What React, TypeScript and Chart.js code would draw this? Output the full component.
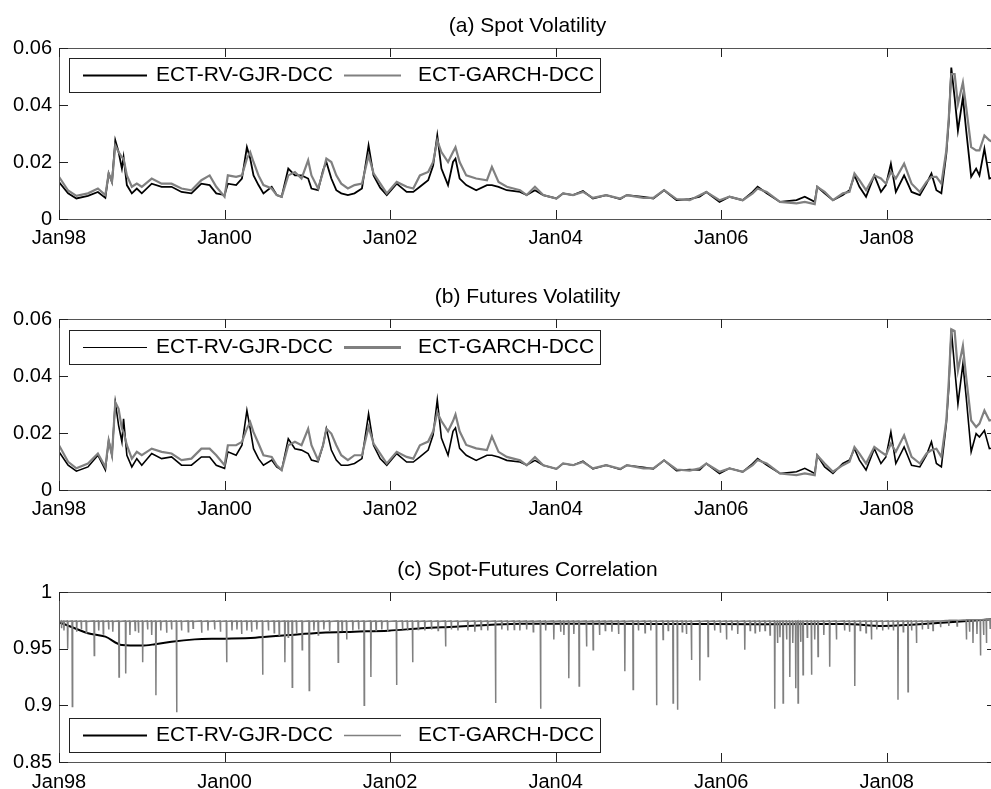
import React, { useEffect, useRef } from "react";
import { Chart, registerables } from "chart.js";
Chart.register(...registerables);

const FONT = '"Liberation Sans", Arial, Helvetica, sans-serif';

// ---------- axes ----------
const xMin = 1998;
const xMax = 2009.32;
const xTickValues = [1998, 2000, 2002, 2004, 2006, 2008];
const xTickLabels = ["Jan98", "Jan00", "Jan02", "Jan04", "Jan06", "Jan08"];
const volTickValues = [0, 0.02, 0.04, 0.06];
const volTickLabels = ["0", "0.02", "0.04", "0.06"];
const corrTickValues = [0.85, 0.9, 0.95, 1];
const corrTickLabels = ["0.85", "0.9", "0.95", "1"];
const seriesNames = ["ECT-RV-GJR-DCC", "ECT-GARCH-DCC"];
const panelTitles = ["(a) Spot Volatility", "(b) Futures Volatility", "(c) Spot-Futures Correlation"];

// ---------- volatility (dates in fractional years) ----------
const volDates = [
  1998.00, 1998.11, 1998.21, 1998.35, 1998.47, 1998.56, 1998.60, 1998.64, 1998.68, 1998.72,
  1998.76, 1998.78, 1998.82, 1998.88, 1998.94, 1999.00, 1999.12, 1999.24, 1999.36, 1999.48,
  1999.60, 1999.72, 1999.82, 1999.90, 2000.00, 2000.04, 2000.14, 2000.21, 2000.27, 2000.31,
  2000.35, 2000.41, 2000.47, 2000.57, 2000.63, 2000.69, 2000.77, 2000.85, 2000.93, 2001.01,
  2001.05, 2001.13, 2001.19, 2001.23, 2001.29, 2001.35, 2001.41, 2001.49, 2001.57, 2001.66,
  2001.74, 2001.80, 2001.88, 2001.96, 2002.08, 2002.20, 2002.28, 2002.36, 2002.46, 2002.52,
  2002.57, 2002.62, 2002.70, 2002.76, 2002.79, 2002.84, 2002.92, 2003.04, 2003.17, 2003.23,
  2003.31, 2003.41, 2003.57, 2003.65, 2003.75, 2003.85, 2004.01, 2004.09, 2004.21, 2004.33,
  2004.45, 2004.61, 2004.78, 2004.86, 2005.06, 2005.18, 2005.31, 2005.46, 2005.62, 2005.74,
  2005.82, 2005.98, 2006.10, 2006.26, 2006.38, 2006.44, 2006.55, 2006.71, 2006.91, 2007.01,
  2007.13, 2007.16, 2007.25, 2007.35, 2007.47, 2007.55, 2007.61, 2007.67, 2007.75, 2007.85,
  2007.93, 2007.99, 2008.05, 2008.11, 2008.21, 2008.30, 2008.40, 2008.48, 2008.54, 2008.60,
  2008.66, 2008.72, 2008.75, 2008.78, 2008.82, 2008.86, 2008.92, 2008.96, 2009.02, 2009.08,
  2009.12, 2009.18, 2009.24, 2009.32,
];

const spotRV = [
  0.0130, 0.0090, 0.0072, 0.0081, 0.0095, 0.0074, 0.0160, 0.0130, 0.0276, 0.0235,
  0.0177, 0.0217, 0.0119, 0.0090, 0.0107, 0.0090, 0.0124, 0.0113, 0.0113, 0.0095,
  0.0090, 0.0124, 0.0119, 0.0090, 0.0084, 0.0124, 0.0119, 0.0142, 0.0252, 0.0212,
  0.0153, 0.0119, 0.0090, 0.0113, 0.0084, 0.0078, 0.0177, 0.0153, 0.0153, 0.0142,
  0.0107, 0.0101, 0.0171, 0.0200, 0.0142, 0.0101, 0.0090, 0.0084, 0.0090, 0.0107,
  0.0258, 0.0153, 0.0110, 0.0084, 0.0124, 0.0095, 0.0095, 0.0113, 0.0136, 0.0188,
  0.0293, 0.0177, 0.0119, 0.0200, 0.0212, 0.0142, 0.0119, 0.0101, 0.0119, 0.0119,
  0.0113, 0.0101, 0.0095, 0.0084, 0.0101, 0.0084, 0.0072, 0.0090, 0.0084, 0.0098,
  0.0072, 0.0084, 0.0070, 0.0084, 0.0078, 0.0072, 0.0101, 0.0066, 0.0070, 0.0078,
  0.0095, 0.0060, 0.0078, 0.0066, 0.0095, 0.0113, 0.0090, 0.0060, 0.0066, 0.0078,
  0.0060, 0.0113, 0.0090, 0.0066, 0.0084, 0.0101, 0.0153, 0.0113, 0.0078, 0.0153,
  0.0095, 0.0119, 0.0194, 0.0095, 0.0153, 0.0095, 0.0084, 0.0124, 0.0160, 0.0101,
  0.0090, 0.0229, 0.0345, 0.0531, 0.0427, 0.0310, 0.0427, 0.0310, 0.0148, 0.0177,
  0.0153, 0.0247, 0.0142, 0.0150,
];

const spotGARCH = [
  0.0148, 0.0100, 0.0081, 0.0090, 0.0107, 0.0084, 0.0160, 0.0130, 0.0258, 0.0235,
  0.0217, 0.0212, 0.0153, 0.0113, 0.0124, 0.0113, 0.0142, 0.0124, 0.0124, 0.0107,
  0.0101, 0.0136, 0.0153, 0.0113, 0.0078, 0.0153, 0.0148, 0.0153, 0.0212, 0.0235,
  0.0200, 0.0153, 0.0119, 0.0107, 0.0084, 0.0078, 0.0153, 0.0165, 0.0142, 0.0206,
  0.0153, 0.0107, 0.0165, 0.0212, 0.0200, 0.0153, 0.0124, 0.0107, 0.0119, 0.0124,
  0.0223, 0.0160, 0.0125, 0.0090, 0.0130, 0.0113, 0.0107, 0.0153, 0.0165, 0.0200,
  0.0276, 0.0235, 0.0200, 0.0235, 0.0252, 0.0200, 0.0153, 0.0142, 0.0136, 0.0183,
  0.0130, 0.0113, 0.0101, 0.0084, 0.0113, 0.0084, 0.0072, 0.0090, 0.0084, 0.0095,
  0.0074, 0.0084, 0.0072, 0.0084, 0.0074, 0.0074, 0.0101, 0.0070, 0.0066, 0.0083,
  0.0095, 0.0066, 0.0078, 0.0066, 0.0090, 0.0107, 0.0095, 0.0060, 0.0055, 0.0060,
  0.0052, 0.0113, 0.0095, 0.0066, 0.0090, 0.0095, 0.0160, 0.0136, 0.0101, 0.0153,
  0.0142, 0.0124, 0.0165, 0.0142, 0.0194, 0.0124, 0.0095, 0.0130, 0.0148, 0.0148,
  0.0124, 0.0241, 0.0357, 0.0508, 0.0508, 0.0403, 0.0479, 0.0392, 0.0252, 0.0241,
  0.0241, 0.0293, 0.0276, 0.0265,
];

const futRV = [
  0.0134, 0.0087, 0.0066, 0.0081, 0.0122, 0.0070, 0.0174, 0.0122, 0.0308, 0.0227,
  0.0169, 0.0250, 0.0122, 0.0081, 0.0110, 0.0087, 0.0128, 0.0110, 0.0116, 0.0087,
  0.0087, 0.0116, 0.0116, 0.0087, 0.0076, 0.0134, 0.0122, 0.0157, 0.0279, 0.0215,
  0.0145, 0.0110, 0.0087, 0.0105, 0.0081, 0.0070, 0.0180, 0.0145, 0.0140, 0.0128,
  0.0105, 0.0099, 0.0157, 0.0215, 0.0140, 0.0105, 0.0087, 0.0087, 0.0093, 0.0110,
  0.0267, 0.0157, 0.0110, 0.0087, 0.0128, 0.0098, 0.0098, 0.0116, 0.0140, 0.0194,
  0.0316, 0.0182, 0.0122, 0.0206, 0.0218, 0.0146, 0.0122, 0.0104, 0.0122, 0.0122,
  0.0116, 0.0104, 0.0098, 0.0087, 0.0104, 0.0087, 0.0074, 0.0093, 0.0087, 0.0101,
  0.0074, 0.0087, 0.0072, 0.0087, 0.0080, 0.0074, 0.0104, 0.0068, 0.0072, 0.0070,
  0.0093, 0.0058, 0.0076, 0.0064, 0.0093, 0.0110, 0.0087, 0.0058, 0.0064, 0.0076,
  0.0058, 0.0122, 0.0081, 0.0058, 0.0093, 0.0105, 0.0145, 0.0105, 0.0070, 0.0145,
  0.0093, 0.0116, 0.0203, 0.0093, 0.0151, 0.0087, 0.0081, 0.0122, 0.0169, 0.0093,
  0.0081, 0.0233, 0.0360, 0.0564, 0.0430, 0.0302, 0.0442, 0.0326, 0.0134, 0.0198,
  0.0186, 0.0209, 0.0145, 0.0150,
];

const futGARCH = [
  0.0157, 0.0099, 0.0076, 0.0093, 0.0128, 0.0081, 0.0174, 0.0122, 0.0308, 0.0285,
  0.0215, 0.0203, 0.0157, 0.0110, 0.0134, 0.0122, 0.0145, 0.0134, 0.0128, 0.0105,
  0.0110, 0.0145, 0.0145, 0.0122, 0.0087, 0.0157, 0.0157, 0.0169, 0.0215, 0.0238,
  0.0203, 0.0163, 0.0122, 0.0116, 0.0087, 0.0070, 0.0157, 0.0169, 0.0157, 0.0215,
  0.0157, 0.0105, 0.0157, 0.0215, 0.0198, 0.0157, 0.0122, 0.0105, 0.0122, 0.0122,
  0.0221, 0.0163, 0.0128, 0.0093, 0.0134, 0.0116, 0.0110, 0.0157, 0.0170, 0.0206,
  0.0272, 0.0242, 0.0206, 0.0242, 0.0265, 0.0206, 0.0158, 0.0146, 0.0140, 0.0188,
  0.0134, 0.0116, 0.0104, 0.0087, 0.0116, 0.0087, 0.0074, 0.0093, 0.0087, 0.0098,
  0.0076, 0.0087, 0.0074, 0.0087, 0.0076, 0.0076, 0.0104, 0.0072, 0.0068, 0.0076,
  0.0093, 0.0064, 0.0076, 0.0064, 0.0087, 0.0105, 0.0093, 0.0058, 0.0052, 0.0058,
  0.0052, 0.0122, 0.0093, 0.0064, 0.0087, 0.0099, 0.0151, 0.0128, 0.0093, 0.0151,
  0.0134, 0.0122, 0.0163, 0.0134, 0.0192, 0.0116, 0.0093, 0.0128, 0.0140, 0.0145,
  0.0116, 0.0244, 0.0384, 0.0564, 0.0558, 0.0419, 0.0506, 0.0395, 0.0244, 0.0221,
  0.0233, 0.0279, 0.0244, 0.0250,
];

// ---------- correlation ----------
const corrRVDates = [
  1998.00, 1998.03, 1998.19, 1998.35, 1998.56, 1998.76, 1999.00, 1999.16, 1999.36, 1999.64,
  1999.96, 2000.37, 2000.77, 2001.17, 2001.57, 2001.98, 2002.38, 2002.78, 2003.18, 2003.59,
  2004.50, 2005.50, 2006.50, 2007.50, 2007.95, 2008.30, 2008.80, 2009.32,
];
const corrRV = [
  0.9730, 0.9724, 0.9680, 0.9636, 0.9606, 0.9532, 0.9527, 0.9539, 0.9562, 0.9582,
  0.9588, 0.9597, 0.9620, 0.9641, 0.9650, 0.9659, 0.9680, 0.9694, 0.9709, 0.9720,
  0.9720, 0.9718, 0.9716, 0.9718, 0.9700, 0.9712, 0.9735, 0.9762,
];

const corrGARCH: [number, number][] = [
  [1998.000,0.9735],
  [1998.026,0.9745],[1998.030,0.968],[1998.034,0.9740],
  [1998.056,0.9745],[1998.060,0.966],[1998.064,0.9740],
  [1998.101,0.9745],[1998.105,0.950],[1998.109,0.9740],
  [1998.157,0.9745],[1998.161,0.899],[1998.165,0.9740],
  [1998.210,0.9745],[1998.214,0.965],[1998.218,0.9740],
  [1998.266,0.9745],[1998.270,0.967],[1998.274,0.9740],
  [1998.326,0.9745],[1998.330,0.964],[1998.334,0.9740],
  [1998.422,0.9745],[1998.426,0.944],[1998.430,0.9740],
  [1998.476,0.9745],[1998.480,0.966],[1998.484,0.9740],
  [1998.531,0.9745],[1998.535,0.963],[1998.539,0.9740],
  [1998.596,0.9745],[1998.600,0.967],[1998.604,0.9740],
  [1998.646,0.9745],[1998.650,0.965],[1998.654,0.9740],
  [1998.721,0.9745],[1998.725,0.925],[1998.729,0.9740],
  [1998.802,0.9745],[1998.806,0.928],[1998.810,0.9740],
  [1998.853,0.9745],[1998.857,0.962],[1998.861,0.9740],
  [1998.916,0.9745],[1998.920,0.966],[1998.924,0.9740],
  [1998.956,0.9745],[1998.960,0.964],[1998.964,0.9740],
  [1999.007,0.9745],[1999.011,0.938],[1999.015,0.9740],
  [1999.066,0.9745],[1999.070,0.967],[1999.074,0.9740],
  [1999.116,0.9745],[1999.120,0.962],[1999.124,0.9740],
  [1999.167,0.9745],[1999.171,0.909],[1999.175,0.9740],
  [1999.226,0.9745],[1999.230,0.966],[1999.234,0.9740],
  [1999.296,0.9745],[1999.300,0.964],[1999.304,0.9740],
  [1999.356,0.9745],[1999.360,0.967],[1999.364,0.9740],
  [1999.417,0.9745],[1999.421,0.894],[1999.425,0.9740],
  [1999.476,0.9745],[1999.480,0.966],[1999.484,0.9740],
  [1999.558,0.9745],[1999.562,0.965],[1999.566,0.9740],
  [1999.616,0.9745],[1999.620,0.968],[1999.624,0.9740],
  [1999.719,0.9745],[1999.723,0.964],[1999.727,0.9740],
  [1999.796,0.9745],[1999.800,0.966],[1999.804,0.9740],
  [1999.876,0.9745],[1999.880,0.967],[1999.884,0.9740],
  [1999.946,0.9745],[1999.950,0.965],[1999.954,0.9740],
  [2000.021,0.9745],[2000.025,0.938],[2000.029,0.9740],
  [2000.086,0.9745],[2000.090,0.966],[2000.094,0.9740],
  [2000.146,0.9745],[2000.150,0.967],[2000.154,0.9740],
  [2000.202,0.9745],[2000.206,0.963],[2000.210,0.9740],
  [2000.266,0.9745],[2000.270,0.966],[2000.274,0.9740],
  [2000.323,0.9745],[2000.327,0.965],[2000.331,0.9740],
  [2000.386,0.9745],[2000.390,0.967],[2000.394,0.9740],
  [2000.456,0.9745],[2000.460,0.927],[2000.464,0.9740],
  [2000.526,0.9745],[2000.530,0.966],[2000.534,0.9740],
  [2000.596,0.9745],[2000.600,0.964],[2000.604,0.9740],
  [2000.656,0.9745],[2000.660,0.962],[2000.664,0.9740],
  [2000.725,0.9745],[2000.729,0.938],[2000.733,0.9740],
  [2000.765,0.9745],[2000.769,0.960],[2000.773,0.9740],
  [2000.814,0.9745],[2000.818,0.916],[2000.822,0.9740],
  [2000.866,0.9745],[2000.870,0.963],[2000.874,0.9740],
  [2000.934,0.9745],[2000.938,0.949],[2000.942,0.9740],
  [2001.019,0.9745],[2001.023,0.913],[2001.027,0.9740],
  [2001.076,0.9745],[2001.080,0.966],[2001.084,0.9740],
  [2001.128,0.9745],[2001.132,0.962],[2001.136,0.9740],
  [2001.196,0.9745],[2001.200,0.967],[2001.204,0.9740],
  [2001.266,0.9745],[2001.270,0.965],[2001.274,0.9740],
  [2001.369,0.9745],[2001.373,0.938],[2001.377,0.9740],
  [2001.416,0.9745],[2001.420,0.966],[2001.424,0.9740],
  [2001.471,0.9745],[2001.475,0.958],[2001.479,0.9740],
  [2001.546,0.9745],[2001.550,0.966],[2001.554,0.9740],
  [2001.616,0.9745],[2001.620,0.967],[2001.624,0.9740],
  [2001.683,0.9745],[2001.687,0.900],[2001.691,0.9740],
  [2001.764,0.9745],[2001.768,0.925],[2001.772,0.9740],
  [2001.826,0.9745],[2001.830,0.966],[2001.834,0.9740],
  [2001.896,0.9745],[2001.900,0.967],[2001.904,0.9740],
  [2001.966,0.9745],[2001.970,0.965],[2001.974,0.9740],
  [2002.074,0.9745],[2002.078,0.918],[2002.082,0.9740],
  [2002.146,0.9745],[2002.150,0.967],[2002.154,0.9740],
  [2002.206,0.9745],[2002.210,0.966],[2002.214,0.9740],
  [2002.268,0.9745],[2002.272,0.938],[2002.276,0.9740],
  [2002.336,0.9745],[2002.340,0.967],[2002.344,0.9740],
  [2002.416,0.9745],[2002.420,0.966],[2002.424,0.9740],
  [2002.496,0.9745],[2002.500,0.967],[2002.504,0.9740],
  [2002.576,0.9745],[2002.580,0.966],[2002.584,0.9740],
  [2002.666,0.9745],[2002.670,0.952],[2002.674,0.9740],
  [2002.736,0.9745],[2002.740,0.967],[2002.744,0.9740],
  [2002.816,0.9745],[2002.820,0.966],[2002.824,0.9740],
  [2002.936,0.9745],[2002.940,0.966],[2002.944,0.9740],
  [2003.020,0.9745],[2003.024,0.965],[2003.028,0.9740],
  [2003.096,0.9745],[2003.100,0.967],[2003.104,0.9740],
  [2003.176,0.9745],[2003.180,0.966],[2003.184,0.9740],
  [2003.270,0.9745],[2003.274,0.902],[2003.278,0.9740],
  [2003.346,0.9745],[2003.350,0.967],[2003.354,0.9740],
  [2003.416,0.9745],[2003.420,0.966],[2003.424,0.9740],
  [2003.496,0.9745],[2003.500,0.967],[2003.504,0.9740],
  [2003.564,0.9745],[2003.568,0.966],[2003.572,0.9740],
  [2003.646,0.9745],[2003.650,0.967],[2003.654,0.9740],
  [2003.726,0.9745],[2003.730,0.965],[2003.734,0.9740],
  [2003.814,0.9745],[2003.818,0.897],[2003.822,0.9740],
  [2003.876,0.9745],[2003.880,0.966],[2003.884,0.9740],
  [2003.974,0.9745],[2003.978,0.958],[2003.982,0.9740],
  [2004.056,0.9745],[2004.060,0.965],[2004.064,0.9740],
  [2004.096,0.9745],[2004.100,0.962],[2004.104,0.9740],
  [2004.155,0.9745],[2004.159,0.924],[2004.163,0.9740],
  [2004.216,0.9745],[2004.220,0.963],[2004.224,0.9740],
  [2004.280,0.9745],[2004.284,0.917],[2004.288,0.9740],
  [2004.369,0.9745],[2004.373,0.952],[2004.377,0.9740],
  [2004.449,0.9745],[2004.453,0.949],[2004.457,0.9740],
  [2004.526,0.9745],[2004.530,0.962],[2004.534,0.9740],
  [2004.596,0.9745],[2004.600,0.966],[2004.604,0.9740],
  [2004.676,0.9745],[2004.680,0.965],[2004.684,0.9740],
  [2004.756,0.9745],[2004.760,0.963],[2004.764,0.9740],
  [2004.832,0.9745],[2004.836,0.930],[2004.840,0.9740],
  [2004.932,0.9745],[2004.936,0.914],[2004.940,0.9740],
  [2004.996,0.9745],[2005.000,0.966],[2005.004,0.9740],
  [2005.076,0.9745],[2005.080,0.964],[2005.084,0.9740],
  [2005.146,0.9745],[2005.150,0.966],[2005.154,0.9740],
  [2005.215,0.9745],[2005.219,0.900],[2005.223,0.9740],
  [2005.294,0.9745],[2005.298,0.958],[2005.302,0.9740],
  [2005.356,0.9745],[2005.360,0.966],[2005.364,0.9740],
  [2005.415,0.9745],[2005.419,0.902],[2005.423,0.9740],
  [2005.468,0.9745],[2005.472,0.896],[2005.476,0.9740],
  [2005.526,0.9745],[2005.530,0.965],[2005.534,0.9740],
  [2005.576,0.9745],[2005.580,0.963],[2005.584,0.9740],
  [2005.637,0.9745],[2005.641,0.940],[2005.645,0.9740],
  [2005.738,0.9745],[2005.742,0.922],[2005.746,0.9740],
  [2005.838,0.9745],[2005.842,0.943],[2005.846,0.9740],
  [2005.916,0.9745],[2005.920,0.966],[2005.924,0.9740],
  [2005.986,0.9745],[2005.990,0.964],[2005.994,0.9740],
  [2006.060,0.9745],[2006.064,0.958],[2006.068,0.9740],
  [2006.126,0.9745],[2006.130,0.966],[2006.134,0.9740],
  [2006.196,0.9745],[2006.200,0.963],[2006.204,0.9740],
  [2006.281,0.9745],[2006.285,0.949],[2006.289,0.9740],
  [2006.346,0.9745],[2006.350,0.966],[2006.354,0.9740],
  [2006.406,0.9745],[2006.410,0.964],[2006.414,0.9740],
  [2006.462,0.9745],[2006.466,0.965],[2006.470,0.9740],
  [2006.526,0.9745],[2006.530,0.966],[2006.534,0.9740],
  [2006.586,0.9745],[2006.590,0.962],[2006.594,0.9740],
  [2006.643,0.9745],[2006.647,0.897],[2006.651,0.9740],
  [2006.676,0.9745],[2006.680,0.955],[2006.684,0.9740],
  [2006.706,0.9745],[2006.710,0.960],[2006.714,0.9740],
  [2006.744,0.9745],[2006.748,0.902],[2006.752,0.9740],
  [2006.786,0.9745],[2006.790,0.958],[2006.794,0.9740],
  [2006.825,0.9745],[2006.829,0.925],[2006.833,0.9740],
  [2006.861,0.9745],[2006.865,0.955],[2006.869,0.9740],
  [2006.897,0.9745],[2006.901,0.915],[2006.905,0.9740],
  [2006.925,0.9745],[2006.929,0.902],[2006.933,0.9740],
  [2006.956,0.9745],[2006.960,0.956],[2006.964,0.9740],
  [2006.985,0.9745],[2006.989,0.927],[2006.993,0.9740],
  [2007.036,0.9745],[2007.040,0.960],[2007.044,0.9740],
  [2007.087,0.9745],[2007.091,0.927],[2007.095,0.9740],
  [2007.126,0.9745],[2007.130,0.958],[2007.134,0.9740],
  [2007.166,0.9745],[2007.170,0.943],[2007.174,0.9740],
  [2007.236,0.9745],[2007.240,0.962],[2007.244,0.9740],
  [2007.307,0.9745],[2007.311,0.934],[2007.315,0.9740],
  [2007.388,0.9745],[2007.392,0.958],[2007.396,0.9740],
  [2007.486,0.9745],[2007.490,0.966],[2007.494,0.9740],
  [2007.546,0.9745],[2007.550,0.965],[2007.554,0.9740],
  [2007.610,0.9745],[2007.614,0.917],[2007.618,0.9740],
  [2007.676,0.9745],[2007.680,0.966],[2007.684,0.9740],
  [2007.746,0.9745],[2007.750,0.964],[2007.754,0.9740],
  [2007.811,0.9745],[2007.815,0.958],[2007.819,0.9740],
  [2007.876,0.9745],[2007.880,0.967],[2007.884,0.9740],
  [2007.946,0.9745],[2007.950,0.966],[2007.954,0.9740],
  [2008.016,0.9745],[2008.020,0.967],[2008.024,0.9740],
  [2008.076,0.9745],[2008.080,0.966],[2008.084,0.9740],
  [2008.132,0.9745],[2008.136,0.905],[2008.140,0.9740],
  [2008.196,0.9745],[2008.200,0.965],[2008.204,0.9740],
  [2008.253,0.9745],[2008.257,0.912],[2008.261,0.9740],
  [2008.296,0.9745],[2008.300,0.966],[2008.304,0.9740],
  [2008.355,0.9745],[2008.359,0.955],[2008.363,0.9740],
  [2008.426,0.9745],[2008.430,0.967],[2008.434,0.9740],
  [2008.496,0.9745],[2008.500,0.968],[2008.504,0.9740],
  [2008.555,0.9745],[2008.559,0.966],[2008.563,0.9745],
  [2008.646,0.9745],[2008.650,0.969],[2008.654,0.9745],
  [2008.746,0.9750],[2008.750,0.970],[2008.754,0.9750],
  [2008.846,0.9750],[2008.850,0.970],[2008.854,0.9750],
  [2008.958,0.9755],[2008.962,0.958],[2008.966,0.9755],
  [2008.996,0.9755],[2009.000,0.965],[2009.004,0.9755],
  [2009.038,0.9755],[2009.042,0.955],[2009.046,0.9755],
  [2009.086,0.9755],[2009.090,0.963],[2009.094,0.9755],
  [2009.128,0.9755],[2009.132,0.944],[2009.136,0.9755],
  [2009.166,0.9755],[2009.170,0.962],[2009.174,0.9755],
  [2009.200,0.9760],[2009.204,0.955],[2009.208,0.9760],
  [2009.246,0.9760],[2009.250,0.968],[2009.254,0.9760],
  [2009.320,0.9762],
];

// ---------- rendering ----------
const CANVAS_W = 1000;
const BLACK = "#000000";
const GREY = "#808080";

const framePlugin = {
  id: "matlabFrame",
  afterDraw(chart: any, _args: any, opts: any) {
    const { ctx, chartArea } = chart;
    const { left, right, top, bottom } = chartArea;
    const xs = chart.scales.x;
    const ys = chart.scales.y;
    ctx.save();
    // box
    ctx.strokeStyle = "#555";
    ctx.lineWidth = 1;
    ctx.beginPath();
    ctx.moveTo(left + 0.5, top + 0.5);
    ctx.lineTo(right + 0.5, top + 0.5);
    ctx.lineTo(right + 0.5, bottom + 0.5);
    ctx.lineTo(left + 0.5, bottom + 0.5);
    ctx.closePath();
    ctx.stroke();
    // inward ticks
    ctx.strokeStyle = "#222";
    ctx.beginPath();
    const TL = 9;
    for (const v of opts.xTicks) {
      const px = Math.round(xs.getPixelForValue(v)) + 0.5;
      ctx.moveTo(px, bottom);
      ctx.lineTo(px, bottom - TL);
      ctx.moveTo(px, top);
      ctx.lineTo(px, top + TL);
    }
    for (const v of opts.yTicks) {
      const py = Math.round(ys.getPixelForValue(v)) + 0.5;
      ctx.moveTo(left, py);
      ctx.lineTo(left + TL, py);
      ctx.moveTo(right, py);
      ctx.lineTo(right - TL, py);
    }
    ctx.stroke();
    // title
    ctx.fillStyle = "#000";
    ctx.font = `21px ${FONT}`;
    ctx.textAlign = "center";
    ctx.textBaseline = "middle";
    ctx.fillText(opts.title, (left + right) / 2, top - 22);
    // legend
    const bx = left + 10;
    const bw = 531;
    const bh = 34;
    const by = opts.legendBottom ? bottom - 10 - bh : top + opts.legendOffset;
    ctx.fillStyle = "#fff";
    ctx.fillRect(bx, by, bw, bh);
    ctx.strokeStyle = "#222";
    ctx.strokeRect(bx + 0.5, by + 0.5, bw, bh);
    const cy = by + bh / 2 + 0.5;
    ctx.lineCap = "butt";
    ctx.strokeStyle = BLACK;
    ctx.lineWidth = opts.legendLineWidths[0];
    ctx.beginPath();
    ctx.moveTo(bx + 14, cy);
    ctx.lineTo(bx + 78, cy);
    ctx.stroke();
    ctx.strokeStyle = GREY;
    ctx.lineWidth = opts.legendLineWidths[1];
    ctx.beginPath();
    ctx.moveTo(bx + 275, cy);
    ctx.lineTo(bx + 332, cy);
    ctx.stroke();
    ctx.fillStyle = "#000";
    ctx.font = `21px ${FONT}`;
    ctx.textAlign = "left";
    ctx.textBaseline = "middle";
    ctx.fillText(opts.names[0], bx + 87, cy);
    ctx.fillText(opts.names[1], bx + 349, cy);
    ctx.restore();
  },
};

type PanelProps = {
  top: number;
  height: number;
  padTop: number;
  axisH: number;
  xPad: number;
  title: string;
  datasets: any[];
  yMin: number;
  yMax: number;
  yTicks: number[];
  yLabels: string[];
  legendBottom: boolean;
  legendOffset: number;
  legendLineWidths: number[];
};

function Panel(p: PanelProps) {
  const ref = useRef<HTMLCanvasElement>(null);
  useEffect(() => {
    const chart = new Chart(ref.current as HTMLCanvasElement, {
      type: "line",
      data: { datasets: p.datasets },
      options: {
        responsive: false,
        animation: false,
        devicePixelRatio: 1,
        events: [],
        layout: { padding: { top: p.padTop, right: 4, left: 0, bottom: 0 } },
        elements: { point: { radius: 0 }, line: { tension: 0 } },
        plugins: {
          legend: { display: false },
          tooltip: { enabled: false },
          title: { display: false },
          matlabFrame: {
            xTicks: xTickValues,
            yTicks: p.yTicks,
            title: p.title,
            legendBottom: p.legendBottom,
            legendOffset: p.legendOffset,
            legendLineWidths: p.legendLineWidths,
            names: seriesNames,
          },
        } as any,
        scales: {
          x: {
            type: "linear",
            min: xMin,
            max: xMax,
            grid: { display: false, drawTicks: false },
            border: { display: false },
            ticks: {
              autoSkip: false,
              maxRotation: 0,
              minRotation: 0,
              padding: p.xPad,
              color: "#000",
              font: { family: FONT, size: 20 },
              callback: (_v: any, i: number) => xTickLabels[i],
            },
            afterBuildTicks: (s: any) => {
              s.ticks = xTickValues.map((v) => ({ value: v }));
            },
            afterFit: (s: any) => {
              s.height = p.axisH;
            },
          },
          y: {
            type: "linear",
            min: p.yMin,
            max: p.yMax,
            grid: { display: false, drawTicks: false },
            border: { display: false },
            ticks: {
              autoSkip: false,
              padding: 7,
              color: "#000",
              font: { family: FONT, size: 20 },
              callback: (_v: any, i: number) => p.yLabels[i],
            },
            afterBuildTicks: (s: any) => {
              s.ticks = p.yTicks.map((v) => ({ value: v }));
            },
            afterFit: (s: any) => {
              s.width = 59;
            },
          },
        },
      },
      plugins: [framePlugin],
    } as any);
    return () => chart.destroy();
  }, []);
  return (
    <canvas
      ref={ref}
      width={CANVAS_W}
      height={p.height}
      style={{ position: "absolute", left: 0, top: p.top, width: CANVAS_W, height: p.height }}
    />
  );
}

const pts = (xs: number[], ys: number[]) => xs.map((x, i) => ({ x, y: ys[i] }));

export default function App() {
  const dsA = [
    { label: seriesNames[0], data: pts(volDates, spotRV), borderColor: BLACK, borderWidth: 1.8, order: 1, pointRadius: 0 },
    { label: seriesNames[1], data: pts(volDates, spotGARCH), borderColor: GREY, borderWidth: 2.2, order: 0, pointRadius: 0 },
  ];
  const dsB = [
    { label: seriesNames[0], data: pts(volDates, futRV), borderColor: BLACK, borderWidth: 1.6, order: 1, pointRadius: 0 },
    { label: seriesNames[1], data: pts(volDates, futGARCH), borderColor: GREY, borderWidth: 2.2, order: 0, pointRadius: 0 },
  ];
  const dsC = [
    {
      label: seriesNames[0],
      data: pts(corrRVDates, corrRV),
      borderColor: BLACK,
      borderWidth: 2,
      order: 1,
      pointRadius: 0,
      cubicInterpolationMode: "monotone",
    },
    {
      label: seriesNames[1],
      data: corrGARCH.map(([x, y]) => ({ x, y })),
      borderColor: GREY,
      borderWidth: 1.5,
      order: 0,
      pointRadius: 0,
    },
  ];
  return (
    <div
      style={{
        position: "fixed",
        left: 0,
        top: 0,
        width: 991,
        height: 789,
        overflow: "hidden",
        background: "#fff",
      }}
    >
      <Panel
        top={0}
        height={262}
        padTop={48}
        axisH={43}
        xPad={7}
        title={panelTitles[0]}
        datasets={dsA}
        yMin={0}
        yMax={0.06}
        yTicks={volTickValues}
        yLabels={volTickLabels}
        legendBottom={false}
        legendOffset={10}
        legendLineWidths={[2.2, 2.2]}
      />
      <Panel
        top={262}
        height={270}
        padTop={57}
        axisH={42}
        xPad={7}
        title={panelTitles[1]}
        datasets={dsB}
        yMin={0}
        yMax={0.06}
        yTicks={volTickValues}
        yLabels={volTickLabels}
        legendBottom={false}
        legendOffset={11}
        legendLineWidths={[1.2, 3]}
      />
      <Panel
        top={532}
        height={257}
        padTop={60}
        axisH={27}
        xPad={8}
        title={panelTitles[2]}
        datasets={dsC}
        yMin={0.85}
        yMax={1}
        yTicks={corrTickValues}
        yLabels={corrTickLabels}
        legendBottom={true}
        legendOffset={0}
        legendLineWidths={[2.2, 1.5]}
      />
    </div>
  );
}
